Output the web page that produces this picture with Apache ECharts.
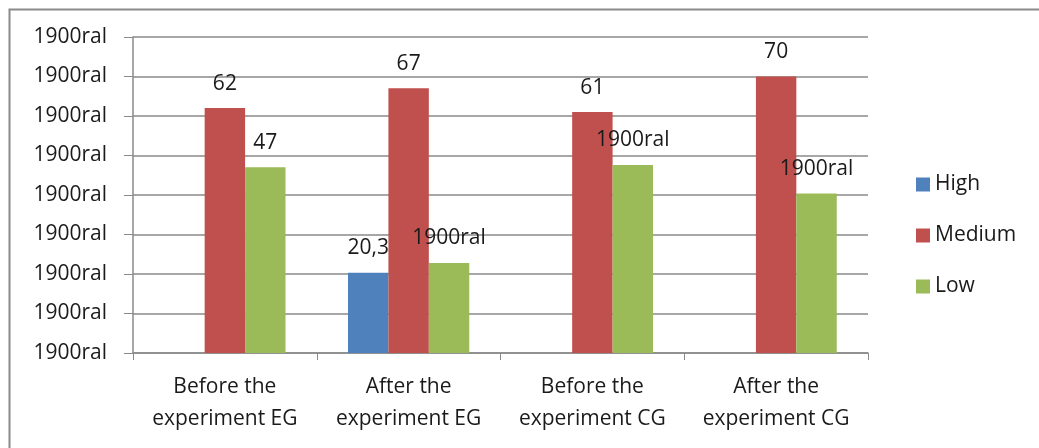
<!DOCTYPE html>
<html>
<head>
<meta charset="utf-8">
<script src="https://cdn.jsdelivr.net/npm/echarts@6/dist/echarts.min.js"></script>
<style>
html,body{margin:0;padding:0;background:#fff;overflow:hidden;}
#chart{width:1039px;height:448px;}
</style>
</head>
<body>
<div id="chart"></div>
<script>
const categories = ['Before the\nexperiment EG', 'After the\nexperiment EG', 'Before the\nexperiment CG', 'After the\nexperiment CG'];
const seriesNames = ['High', 'Medium', 'Low'];
const highValues = [null, 20.3, null, null];
const mediumValues = [62, 67, 61, 70];
const lowValues = [47, 22.8, 47.6, 40.4];
const highLabels = ['', '20,3', '', ''];
const mediumLabels = ['62', '67', '61', '70'];
const lowLabels = ['47', '1900ral', '1900ral', '1900ral'];
const yTickLabel = '1900ral';

const colors = ['#4F81BD', '#C0504D', '#9BBB59'];
const font = 'Open Sans';
const fs = 21;

function mk(name, data, labels, color) {
  return {
    name: name, type: 'bar', data: data, barGap: '0%', barCategoryGap: '34%',
    itemStyle: { color: color },
    label: {
      show: true, position: 'top', distance: 14,
      fontFamily: font, fontSize: fs, color: '#1a1a1a',
      formatter: p => labels[p.dataIndex]
    }
  };
}

const chart = echarts.init(document.getElementById('chart'));
chart.setOption({
  animation: false,
  color: colors,
  graphic: [{
    type: 'rect', left: 7, top: 7, z: 100, silent: true,
    shape: { width: 1200, height: 600 },
    style: { fill: 'none', stroke: '#8a8a8a', lineWidth: 2 }
  }],
  grid: { left: 133, right: 171, top: 37, bottom: 95, containLabel: false },
  legend: {
    orient: 'vertical', left: 911, top: 169, itemGap: 30,
    itemWidth: 14, itemHeight: 14, icon: 'rect',
    textStyle: { fontFamily: font, fontSize: fs, color: '#1a1a1a' },
    data: seriesNames
  },
  xAxis: {
    type: 'category', data: categories,
    axisLine: { lineStyle: { color: '#8a8a8a', width: 1.5 } },
    axisTick: { show: true, alignWithLabel: false, length: 7, lineStyle: { color: '#8a8a8a' } },
    axisLabel: { fontFamily: font, fontSize: fs, color: '#1a1a1a', lineHeight: 32, margin: 18, interval: 0 }
  },
  yAxis: {
    type: 'value', min: 0, max: 80, interval: 10,
    axisLine: { show: true, lineStyle: { color: '#8a8a8a', width: 1.5 } },
    axisTick: { show: true, length: 9, lineStyle: { color: '#8a8a8a' } },
    splitLine: { lineStyle: { color: '#8a8a8a', width: 1.5 } },
    axisLabel: { fontFamily: font, fontSize: fs, color: '#1a1a1a', margin: 26, formatter: () => yTickLabel }
  },
  series: [
    mk(seriesNames[0], highValues, highLabels, colors[0]),
    mk(seriesNames[1], mediumValues, mediumLabels, colors[1]),
    mk(seriesNames[2], lowValues, lowLabels, colors[2])
  ]
});
</script>
</body>
</html>
